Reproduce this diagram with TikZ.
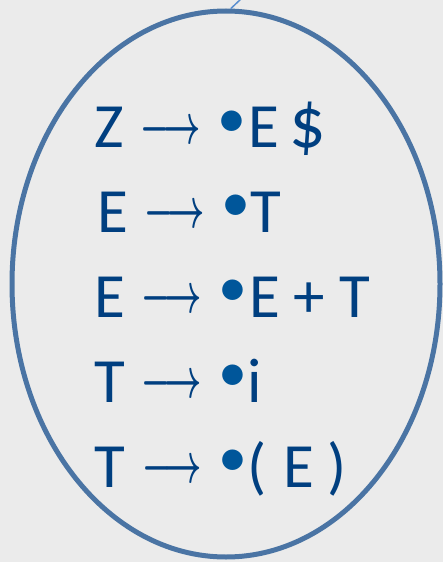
\documentclass[tikz,border=0pt]{standalone}
\usepackage{fontspec}
\setmainfont{Carlito}
\usetikzlibrary{shapes.geometric}
\definecolor{bgc}{HTML}{EBEBEB}
\definecolor{ellc}{HTML}{4A74A4}
\definecolor{txtc}{HTML}{003F80}
\definecolor{dotc}{HTML}{00569A}
\definecolor{linec}{HTML}{5B8FD0}
\tikzset{
  sym/.style={anchor=base, inner sep=0, text=txtc, font=\fontsize{63}{63}\selectfont},
  bigsym/.style={anchor=base, inner sep=0, text=txtc, font=\fontsize{72}{72}\selectfont},
  arr/.style={anchor=center, inner sep=0, text=txtc},
  dot/.style={anchor=center, inner sep=0, text=dotc, font=\fontsize{58}{58}\selectfont},
  itemset/.style={ellipse, draw=ellc, line width=5pt, inner sep=0, minimum width=428pt, minimum height=546pt},
  conn/.style={draw=linec, line width=1.5pt}
}
\newcommand{\arrowglyph}{\resizebox{60pt}{22pt}{\boldmath$\longrightarrow$}}
\begin{document}
\begin{tikzpicture}[x=1pt,y=-1pt]
\fill[bgc] (0,0) rectangle (443,562);
\useasboundingbox (0,0) rectangle (443,562);
\node[itemset] (items) at (226,284) {};
\coordinate (up) at (242,-2);
\draw[conn] (items.89.4) -- (up);
% row 1
\node[sym] (z1) at (109,147) {Z};
\node[arr] (a1) at (170.5,132) {\arrowglyph};
\node[dot] (d1) at (232,124) {•};
\node[sym] (r1a) at (263.5,147) {E};
\node[bigsym] (r1b) at (308,147) {\$};
% row 2
\node[sym] (e2) at (113,232) {E};
\node[arr] (a2) at (174.5,216) {\arrowglyph};
\node[dot] (d2) at (236,208) {•};
\node[sym] (r2a) at (266,232) {T};
% row 3
\node[sym] (e3) at (110,317) {E};
\node[arr] (a3) at (171.5,301) {\arrowglyph};
\node[dot] (d3) at (233,293) {•};
\node[sym] (r3a) at (264.5,317) {E};
\node[sym] (r3b) at (309,317) {+};
\node[sym] (r3c) at (355,317) {T};
% row 4
\node[sym] (t4) at (109.5,402) {T};
\node[arr] (a4) at (171.5,386) {\arrowglyph};
\node[dot] (d4) at (233,378) {•};
\node[sym] (r4a) at (254.5,402) {i};
% row 5
\node[sym] (t5) at (110,487) {T};
\node[arr] (a5) at (172,471) {\arrowglyph};
\node[dot] (d5) at (233,463) {•};
\node[sym] (r5a) at (257.5,487) {(};
\node[sym] (r5b) at (298.5,487) {E};
\node[sym] (r5c) at (337.5,487) {)};
\end{tikzpicture}
\end{document}
